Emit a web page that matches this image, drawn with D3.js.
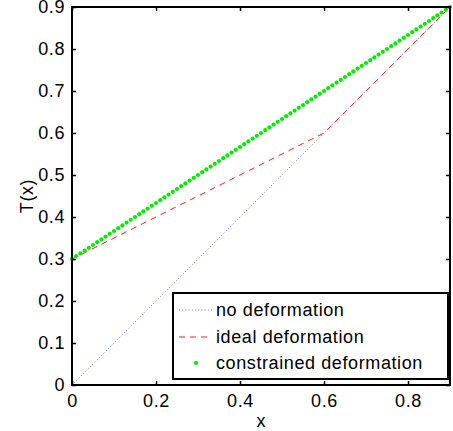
<!DOCTYPE html>
<html><head><meta charset="utf-8">
<script src="https://cdn.jsdelivr.net/npm/d3@7"></script>
<style>
body{margin:0;background:#fff;}
text{font-family:"Liberation Sans",Arial,Helvetica,sans-serif;}
</style></head><body>
<svg id="chart" width="453" height="431"></svg>
<script>
// Data
const noDefX = [0, 0.6, 0.9];
const noDefT = [0, 0.6, 0.9];
const idealX = [0, 0.6, 0.9];
const idealT = [0.3, 0.6, 0.9];
const constrainedX = d3.range(0, 91).map(i => +(i * 0.01).toFixed(2));
const constrainedT = [0.3,0.3067,0.3133,0.32,0.3267,0.3333,0.34,0.3467,0.3533,0.36,0.3667,0.3733,0.38,0.3867,0.3933,0.4,0.4067,0.4133,0.42,0.4267,0.4333,0.44,0.4467,0.4533,0.46,0.4667,0.4733,0.48,0.4867,0.4933,0.5,0.5067,0.5133,0.52,0.5267,0.5333,0.54,0.5467,0.5533,0.56,0.5667,0.5733,0.58,0.5867,0.5933,0.6,0.6067,0.6133,0.62,0.6267,0.6333,0.64,0.6467,0.6533,0.66,0.6667,0.6733,0.68,0.6867,0.6933,0.7,0.7067,0.7133,0.72,0.7267,0.7333,0.74,0.7467,0.7533,0.76,0.7667,0.7733,0.78,0.7867,0.7933,0.8,0.8067,0.8133,0.82,0.8267,0.8333,0.84,0.8467,0.8533,0.86,0.8667,0.8733,0.88,0.8867,0.8933,0.9];
const xTicks = [0, 0.2, 0.4, 0.6, 0.8];
const yTicks = [0, 0.1, 0.2, 0.3, 0.4, 0.5, 0.6, 0.7, 0.8, 0.9];
const legendLabels = ["no deformation", "ideal deformation", "constrained deformation"];

const svg = d3.select("#chart");
const L = 72, R = 450, T = 7, B = 385;
const x = d3.scaleLinear().domain([0, 0.9]).range([L, R]);
const y = d3.scaleLinear().domain([0, 0.9]).range([B, T]);
const fmt = d => d === 0 ? "0" : d3.format(".1f")(d);

const line = d3.line().x(d => x(d[0])).y(d => y(d[1]));

// Series
svg.append("path").datum(noDefX.map((v, i) => [v, noDefT[i]]))
  .attr("d", line).attr("fill", "none").attr("stroke", "#3333ff")
  .attr("stroke-width", 0.8).attr("stroke-dasharray", "1,2.2").attr("opacity", 0.8);
svg.append("path").datum(idealX.map((v, i) => [v, idealT[i]]))
  .attr("d", line).attr("fill", "none").attr("stroke", "#ff0000")
  .attr("stroke-width", 0.9).attr("stroke-dasharray", "6,5");
svg.append("g").selectAll("circle").data(constrainedX.map((v, i) => [v, constrainedT[i]]))
  .join("circle").attr("cx", d => x(d[0])).attr("cy", d => y(d[1])).attr("r", 2.1)
  .attr("fill", "#00ee00");

// Axes (box with inward ticks)
const axStyle = g => {
  g.select(".domain").remove();
  g.selectAll(".tick line").attr("stroke", "#000").attr("stroke-width", 1.5);
  g.selectAll(".tick text").attr("font-size", 18).attr("fill", "#000")
   .style("letter-spacing", "0.6px").attr("font-family", "'Liberation Sans',Arial,sans-serif");
};
svg.append("g").attr("transform", `translate(0,${B})`)
  .call(d3.axisBottom(x).tickValues(xTicks).tickFormat(fmt).tickSizeInner(-4).tickSizeOuter(0).tickPadding(9))
  .call(axStyle);
svg.append("g").attr("transform", `translate(${L},0)`)
  .call(d3.axisLeft(y).tickValues(yTicks).tickFormat(fmt).tickSizeInner(-4).tickSizeOuter(0).tickPadding(7))
  .call(axStyle);
svg.append("g").attr("transform", `translate(0,${T})`)
  .call(d3.axisTop(x).tickValues(xTicks).tickFormat("").tickSizeInner(-4).tickSizeOuter(0))
  .call(axStyle);
svg.append("g").attr("transform", `translate(${R},0)`)
  .call(d3.axisRight(y).tickValues(yTicks).tickFormat("").tickSizeInner(-4).tickSizeOuter(0))
  .call(axStyle);
svg.append("rect").attr("x", L).attr("y", T).attr("width", R - L).attr("height", B - T)
  .attr("fill", "none").attr("stroke", "#000").attr("stroke-width", 2);

// Axis labels
svg.append("text").attr("x", (L + R) / 2).attr("y", 427).attr("text-anchor", "middle")
  .attr("font-size", 18).text("x");
svg.append("text").attr("transform", `translate(33,${(T + B) / 2}) rotate(-90)`)
  .attr("text-anchor", "middle").attr("font-size", 18).style("letter-spacing", "0.6px").text("T(x)");

// Legend
const lg = svg.append("g");
lg.append("rect").attr("x", 173).attr("y", 293).attr("width", 275).attr("height", 86)
  .attr("fill", "#fff").attr("stroke", "#000").attr("stroke-width", 2);
const ly = [310, 337, 363];
lg.append("line").attr("x1", 179).attr("x2", 212).attr("y1", ly[0]).attr("y2", ly[0])
  .attr("stroke", "#3333ff").attr("stroke-width", 0.8).attr("stroke-dasharray", "1,2.2").attr("opacity", 0.8);
lg.append("line").attr("x1", 179).attr("x2", 212).attr("y1", ly[1]).attr("y2", ly[1])
  .attr("stroke", "#ff0000").attr("stroke-width", 0.9).attr("stroke-dasharray", "6,5");
lg.append("circle").attr("cx", 196).attr("cy", ly[2]).attr("r", 2.1).attr("fill", "#00ee00");
legendLabels.forEach((t, i) => {
  lg.append("text").attr("x", 216).attr("y", ly[i]).attr("dy", "0.35em")
    .attr("font-size", 18).style("letter-spacing", "0.6px").text(t);
});
</script>
</body></html>
